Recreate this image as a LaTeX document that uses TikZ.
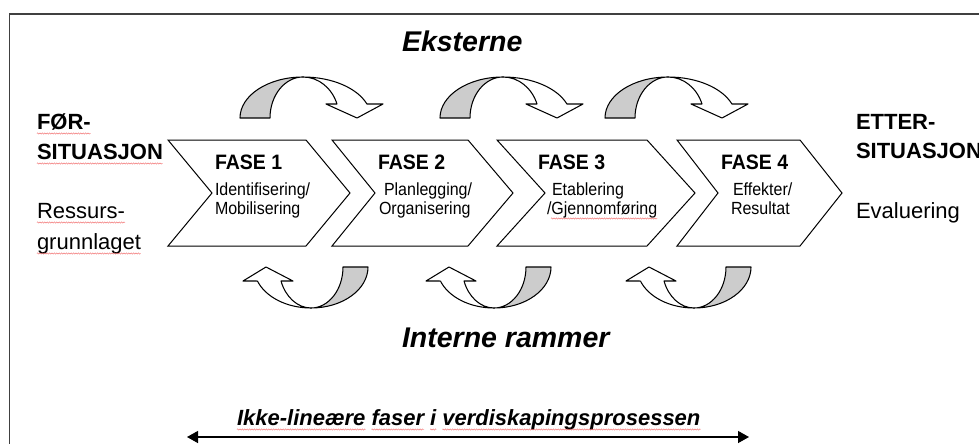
\documentclass[tikz,border=0pt]{standalone}
\usepackage{fontspec}
\usepackage{graphicx}
\setmainfont{Liberation Sans}
\usetikzlibrary{arrows.meta,decorations.pathmorphing}
\definecolor{arrgray}{gray}{0.8}
\definecolor{squigred}{RGB}{240,90,90}
\newcommand\tallsub[1]{\scalebox{1}[1.1]{#1}}
\newcommand\tallfase[1]{\scalebox{1}[1.07]{#1}}
\newcommand\fasechev[4]{\draw[chev] (#1,140) -- (#2,140) -- (#3,193) -- (#2,246) -- (#1,246) -- (#4,193) -- cycle;}
\newcommand\toparr[1]{%
  \filldraw[band, fill=arrgray] ({#1-63},118) arc[start angle=180,end angle=90,x radius=63pt,y radius=41pt]
     arc[start angle=90,end angle=180,x radius=33pt,y radius=41pt] -- cycle;
  \filldraw[band, fill=white] (#1,77) arc[start angle=90,end angle=20,x radius=68pt,y radius=41pt]
     -- ({#1+80},104) -- ({#1+54},118) -- ({#1+23},104) -- ({#1+34},104)
     arc[start angle=20,end angle=90,x radius=36pt,y radius=41pt] -- cycle;}
\newcommand\botarr[1]{%
  \filldraw[band, fill=arrgray] ({#1+57},267) arc[start angle=0,end angle=-90,x radius=57pt,y radius=41pt]
     arc[start angle=-90,end angle=0,x radius=32pt,y radius=41pt] -- cycle;
  \filldraw[band, fill=white] (#1,308) arc[start angle=-90,end angle=-160,x radius=57pt,y radius=41pt]
     -- ({#1-68},281) -- ({#1-45},267) -- ({#1-18},281) -- ({#1-30},281)
     arc[start angle=-160,end angle=-90,x radius=32pt,y radius=41pt] -- cycle;}
\begin{document}
\begin{tikzpicture}[x=1pt,y=-1pt,
  lbl/.style={inner sep=0pt, outer sep=0pt, anchor=base west},
  big/.style={lbl, font=\fontsize{22}{26}\selectfont},
  bigb/.style={lbl, font=\fontsize{22}{26}\selectfont\bfseries},
  fase/.style={lbl, font=\fontsize{19.5}{23}\selectfont\bfseries},
  sub/.style={lbl, font=\fontsize{16}{19}\selectfont},
  title/.style={lbl, font=\fontsize{28.5}{32}\selectfont\bfseries\itshape},
  bottxt/.style={lbl, font=\fontsize{22}{26}\selectfont\bfseries\itshape},
  chev/.style={draw=black, fill=white, line width=1pt, line join=miter},
  band/.style={draw=black, line width=1.05pt, line join=round},
  squig/.style={draw=squigred, line width=0.35pt, decorate,
     decoration={zigzag, segment length=2.4pt, amplitude=0.7pt}},
]
\useasboundingbox (0,0) rectangle (979,444);
\fill[white] (0,0) rectangle (979,444);
% frame
\draw[line width=1.1pt, black!75] (9.5,444) -- (9.5,14) -- (979,14);

% chevrons
\fasechev{168}{306}{350}{212}
\fasechev{332}{468}{513}{375}
\fasechev{497}{647}{695}{545}
\fasechev{677}{800}{842}{718}

% curved arrows
\toparr{303}
\toparr{503}
\toparr{668}
\botarr{311}
\botarr{494}
\botarr{694}

% titles
\node[title] (ext) at (402,52) {Eksterne};
\node[title] (int) at (402,347) {Interne rammer};

% left / right
\node[bigb] (for1) at (37,129) {FØR-};
\node[bigb] (for2) at (37,159) {SITUASJON};
\node[big] (res1) at (37,218) {Ressurs-};
\node[big] (res2) at (37,249) {grunnlaget};
\node[bigb] (etter1) at (856,129) {ETTER-};
\node[bigb] (etter2) at (856,158) {SITUASJON};
\node[big] (eval) at (856,218) {Evaluering};

% phases
\node[fase] (f1) at (215,169) {\tallfase{FASE 1}};
\node[sub] (f1a) at (215,195) {\tallsub{Identifisering/}};
\node[sub] (f1b) at (215,214) {\tallsub{Mobilisering}};
\node[fase] (f2) at (378,169) {\tallfase{FASE 2}};
\node[sub] (f2a) at (384,195) {\tallsub{Planlegging/}};
\node[sub] (f2b) at (379,214) {\tallsub{Organisering}};
\node[fase] (f3) at (538,169) {\tallfase{FASE 3}};
\node[sub] (f3a) at (552,195) {\tallsub{Etablering}};
\node[sub] (f3b) at (547,214) {\tallsub{/Gjennomføring}};
\node[fase] (f4) at (721,169) {\tallfase{FASE 4}};
\node[sub] (f4a) at (733,195) {\tallsub{Effekter/}};
\node[sub] (f4b) at (731,214) {\tallsub{Resultat}};

% bottom text
\node[bottxt] (w1) at (237,425) {Ikke-lineære};
\node[bottxt] (w2) at ([xshift=6.1pt]w1.base east) {faser};
\node[bottxt] (w3) at ([xshift=6.1pt]w2.base east) {i};
\node[bottxt] (w4) at ([xshift=6.1pt]w3.base east) {verdiskapingsprosessen};

\coordinate (aL) at (187,437);
\coordinate (aR) at (749,437);
\draw[line width=1.3pt, {Triangle[length=11pt,width=12pt]}-{Triangle[length=11pt,width=12pt]}] (aL) -- (aR);

% spell-check squiggles
\foreach \n in {for1,for2,res1,res2,w1,w2,w3,w4}{
  \draw[squig] ([yshift=-4.5pt]\n.base west) -- ([yshift=-4.5pt]\n.base east);
}
\draw[squig] ([xshift=4pt,yshift=-4.5pt]f3b.base west) -- ([yshift=-4.5pt]f3b.base east);
\end{tikzpicture}
\end{document}
